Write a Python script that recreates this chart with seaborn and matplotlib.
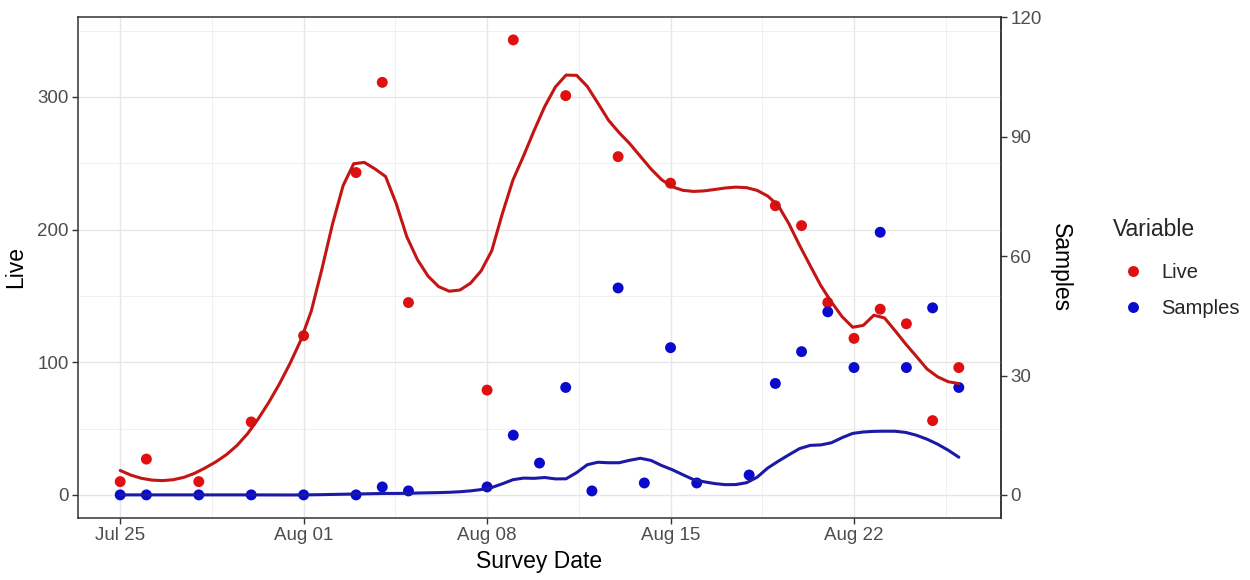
import numpy as np
import pandas as pd
import matplotlib
matplotlib.use("Agg")
import matplotlib.pyplot as plt
import matplotlib.dates as mdates
from matplotlib.ticker import FixedLocator, AutoMinorLocator
import seaborn as sns

# survey data (year is arbitrary)
live_dates = ["07-25", "07-26", "07-28", "07-30", "08-01", "08-03", "08-04", "08-05",
              "08-08", "08-09", "08-11", "08-13", "08-15", "08-19", "08-20", "08-21",
              "08-22", "08-23", "08-24", "08-25", "08-26"]
live_values = [10, 27, 10, 55, 120, 243, 311, 145, 79, 343, 301, 255, 235, 218, 203, 145,
               118, 140, 129, 56, 96]

sample_dates = ["07-25", "07-26", "07-28", "07-30", "08-01", "08-03", "08-04", "08-05",
                "08-08", "08-09", "08-10", "08-11", "08-12", "08-13", "08-14", "08-15",
                "08-16", "08-18", "08-19", "08-20", "08-21", "08-22", "08-23", "08-24",
                "08-25", "08-26"]
sample_values = [0, 0, 0, 0, 0, 0, 2, 1, 2, 15, 8, 27, 1, 52, 3, 37, 3, 5, 28, 36, 46, 32,
                 66, 32, 47, 27]

x_tick_labels = ["Jul 25", "Aug 01", "Aug 08", "Aug 15", "Aug 22"]
live_ticks = [0, 100, 200, 300]
sample_ticks = [0, 30, 60, 90, 120]
scale = 3  # Samples points drawn on the Live scale

YEAR = "2019"
SPAN = 0.3


def to_dates(md):
    return pd.to_datetime([YEAR + "-" + d for d in md])


# --- loess like R's (local quadratic, tricube, kd-tree vertices + hermite interpolation)
def local_fit(x, y, x0, q):
    d = np.abs(x - x0)
    h = np.sort(d)[q - 1]
    w = np.clip(1 - (d / h) ** 3, 0, None) ** 3
    X = np.column_stack([np.ones(len(x)), x - x0, (x - x0) ** 2])
    sw = np.sqrt(w)
    b = np.linalg.lstsq(X * sw[:, None], y * sw, rcond=None)[0]
    return b[0], b[1]


def kd_vertices(xs, fc):
    xs = np.sort(xs)
    verts = set()

    def rec(l, u):
        if u - l + 1 <= fc:
            return
        m = (l + u) // 2
        verts.add(xs[m])
        rec(l, m)
        rec(m + 1, u)

    rec(0, len(xs) - 1)
    return sorted(verts)


def loess(x, y, span=SPAN, n_out=80):
    x = np.asarray(x, float)
    y = np.asarray(y, float)
    n = len(x)
    q = int(np.floor(n * span))
    xs = np.linspace(x.min(), x.max(), n_out)
    mu = 0.005 * (x.max() - x.min())
    fc = max(int(np.floor(n * 0.2 * span)), 1)
    v = np.array(sorted(set([x.min() - mu, x.max() + mu] + kd_vertices(x, fc))))
    vals = np.array([local_fit(x, y, t, q) for t in v])
    out = []
    for t in xs:
        i = int(np.clip(np.searchsorted(v, t) - 1, 0, len(v) - 2))
        hh = v[i + 1] - v[i]
        s = (t - v[i]) / hh
        h00 = 2 * s**3 - 3 * s**2 + 1
        h10 = s**3 - 2 * s**2 + s
        h01 = -2 * s**3 + 3 * s**2
        h11 = s**3 - s**2
        out.append(h00 * vals[i, 0] + h10 * hh * vals[i, 1]
                   + h01 * vals[i + 1, 0] + h11 * hh * vals[i + 1, 1])
    return xs, np.array(out)


live_dt = to_dates(live_dates)
samp_dt = to_dates(sample_dates)
t0 = live_dt.min()

points = pd.concat([
    pd.DataFrame({"date": live_dt, "value": live_values, "Variable": "Live"}),
    pd.DataFrame({"date": samp_dt, "value": np.array(sample_values) * scale,
                  "Variable": "Samples"}),
], ignore_index=True)

# smooths (Samples smooth on its raw values, as in the original)
lx, ly = loess((live_dt - t0).days, live_values)
sx, sy = loess((samp_dt - t0).days, sample_values)
smooth = pd.concat([
    pd.DataFrame({"date": t0 + pd.to_timedelta(lx, unit="D"), "fit": ly, "Variable": "Live"}),
    pd.DataFrame({"date": t0 + pd.to_timedelta(sx, unit="D"), "fit": sy, "Variable": "Samples"}),
], ignore_index=True)

sns.set_theme(style="white")
plt.rcParams["font.family"] = ["Liberation Sans", "DejaVu Sans"]

fig = plt.figure(figsize=(12.5, 5.8), dpi=100)
ax = fig.add_axes([0.0626, 0.1074, 0.738, 0.8638])

point_colors = {"Live": "#E01010", "Samples": "#0A0ACC"}
line_colors = {"Live": "#C41515", "Samples": "#1A1AA6"}

sns.scatterplot(data=points, x="date", y="value", hue="Variable", palette=point_colors,
                s=62, edgecolor="none", linewidth=0, ax=ax, zorder=3)
sns.lineplot(data=smooth, x="date", y="fit", hue="Variable", palette=line_colors,
             linewidth=2.2, legend=False, ax=ax, zorder=4)

# axes limits with ggplot-like 5% expansion
ax.set_xlim(t0 - pd.Timedelta(days=1.6), t0 + pd.Timedelta(days=33.6))
ax.set_ylim(-17.2, 360.5)

tick_dates = [t0 + pd.Timedelta(days=7 * i) for i in range(len(x_tick_labels))]
ax.xaxis.set_major_locator(FixedLocator(mdates.date2num(tick_dates)))
ax.set_xticklabels(x_tick_labels)
ax.xaxis.set_minor_locator(AutoMinorLocator(2))
ax.set_yticks(live_ticks)
ax.yaxis.set_minor_locator(AutoMinorLocator(2))

ax.grid(which="major", color="#E6E6E6", linewidth=1.0)
ax.grid(which="minor", color="#EEEEEE", linewidth=0.6)
ax.set_axisbelow(True)
for sp in ax.spines.values():
    sp.set_visible(True)
    sp.set_color("#333333")
    sp.set_linewidth(1.1)

ax.tick_params(which="major", direction="out", length=4, width=1, color="#333333",
               labelsize=13.5, labelcolor="#4D4D4D", left=True, bottom=True, pad=3)
ax.tick_params(which="minor", length=0)

ax.set_xlabel("Survey Date", fontsize=16.5, color="black", labelpad=4)
ax.set_ylabel("Live", fontsize=16.5, color="black", labelpad=7)

sec = ax.secondary_yaxis("right", functions=(lambda v: v / scale, lambda v: v * scale))
sec.set_yticks(sample_ticks)
sec.tick_params(direction="out", length=4, width=1, color="#333333",
                labelsize=13.5, labelcolor="#4D4D4D", pad=3)
sec.spines["right"].set_color("#333333")
sec.spines["right"].set_linewidth(1.1)
sec.set_ylabel("Samples", fontsize=16.5, color="black", rotation=270, labelpad=22)

leg = ax.legend(title="Variable", loc="upper left", bbox_to_anchor=(1105 / 1250, 1 - 210 / 580),
                bbox_transform=fig.transFigure, frameon=False, fontsize=14.5,
                title_fontsize=16.5, markerscale=1.0, handletextpad=0.4, labelspacing=0.85,
                borderaxespad=0)
leg._legend_box.align = "left"
leg._legend_box.sep = 15.5

fig.savefig("out.png", dpi=100)
